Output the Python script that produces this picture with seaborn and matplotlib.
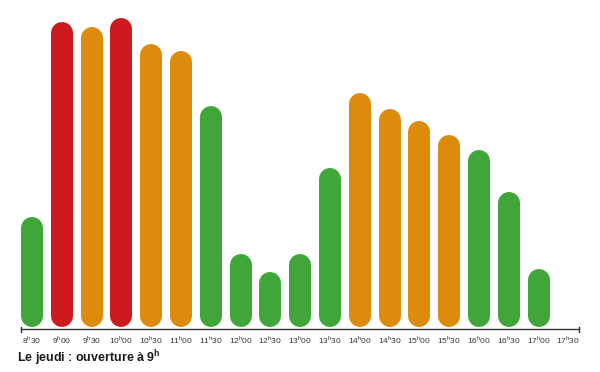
import pandas as pd
import matplotlib.pyplot as plt
import seaborn as sns

# Affluence par créneau (le jeudi)
hours = ["8h30", "9h00", "9h30", "10h00", "10h30", "11h00", "11h30", "12h00",
         "12h30", "13h00", "13h30", "14h00", "14h30", "15h00", "15h30", "16h00",
         "16h30", "17h00", "17h30"]
affluence = [110, 305, 300, 309, 283, 276, 221, 73, 55, 73, 159, 234, 218,
             206, 192, 177, 135, 58, 0]
level = ["faible", "fort", "moyen", "fort", "moyen", "moyen", "faible", "faible",
         "faible", "faible", "faible", "moyen", "moyen", "moyen", "moyen",
         "faible", "faible", "faible", "faible"]
palette = {"faible": "#40a639", "moyen": "#dc8b0c", "fort": "#cc1a1f"}

df = pd.DataFrame({"heure": hours, "affluence": affluence, "niveau": level})

plt.rcParams['font.family'] = ['Liberation Sans', 'DejaVu Sans']
plt.rcParams['mathtext.fontset'] = 'custom'
plt.rcParams['mathtext.rm'] = 'Liberation Sans'
plt.rcParams['mathtext.bf'] = 'Liberation Sans:bold'

fig = plt.figure(figsize=(6, 3.72), dpi=100)
# 1 unité en y = 1 pixel
ax = fig.add_axes([21 / 600, 43 / 372, 558 / 600, 319 / 372])

sns.barplot(data=df, x="heure", y="affluence", hue="niveau", palette=palette,
            dodge=False, width=0.74, saturation=1, legend=False, ax=ax)

# barres arrondies : on remplace chaque rectangle par un trait à bouts ronds
r = 11
for p in list(ax.patches):
    h = p.get_height()
    p.set_visible(False)
    if h < 1:
        continue
    xc = p.get_x() + p.get_width() / 2
    ax.plot([xc, xc], [r, h - r], color=p.get_facecolor(), lw=22 * 0.72,
            solid_capstyle='round')

x0, x1 = -11 / 29.8, 547 / 29.8
ax.set_xlim(x0, x1)
ax.set_ylim(-2, 317)

for s in ["top", "right", "left"]:
    ax.spines[s].set_visible(False)
ax.spines["bottom"].set_color("#333333")
ax.spines["bottom"].set_linewidth(1)
for xe in (x0, x1):
    ax.plot([xe, xe], [-4.7, 0.3], color="#333333", lw=1, clip_on=False)

ax.set_yticks([])
ax.set_xticks(range(len(hours)))
ax.set_xticklabels([h.replace("h", "$^{\\rm h}$") for h in hours],
                   fontsize=6, color="#333333")
ax.tick_params(axis="x", length=0, pad=3.5)
ax.set_xlabel("")
ax.set_ylabel("")

fig.text(17 / 600, 1 - 358 / 372, "Le jeudi : ouverture à 9$^{\\bf h}$",
         fontsize=9, fontweight="bold", va="center", color="#1a1a1a")

fig.savefig("out.png", dpi=100)
